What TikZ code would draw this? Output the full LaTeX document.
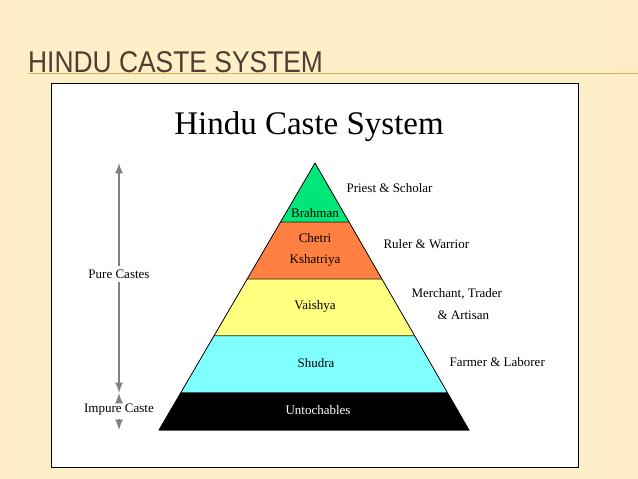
\documentclass[tikz,border=0pt]{standalone}
\usepackage{fontspec}
\usetikzlibrary{calc}
\setmainfont{Liberation Serif}
\newfontfamily\titlefont{Liberation Sans}
\definecolor{slidebg}{RGB}{253,240,200}
\definecolor{titlegray}{RGB}{80,62,50}
\definecolor{rulecol}{RGB}{230,170,90}
\definecolor{brahmancol}{RGB}{0,230,120}
\definecolor{ksatcol}{RGB}{255,128,64}
\definecolor{vaiscol}{RGB}{255,255,128}
\definecolor{shudcol}{RGB}{128,255,255}
\definecolor{arrowgray}{RGB}{128,128,128}
\tikzset{
  band/.style={draw=black,line width=0.5pt},
  castelabel/.style={font=\fontsize{13}{15}\selectfont,align=center},
  rolelabel/.style={font=\fontsize{13}{15}\selectfont,align=center,anchor=west},
  sidearrow/.style={arrowgray,line width=2.5pt,-latex}
}
\begin{document}
\begin{tikzpicture}[x=1pt,y=-1pt]
  \useasboundingbox (0,0) rectangle (638,479);
  \fill[slidebg] (0,0) rectangle (638,479);
  \fill[slidebg!80!orange!60!white,opacity=0.5] (0,0) rectangle (18,479);
  \fill[slidebg!80!orange!60!white,opacity=0.5] (612,0) rectangle (638,479);
  \draw[rulecol,line width=1pt] (28,73) -- (638,73);
  \node[anchor=base west,inner sep=0pt,text=titlegray,xscale=0.88,
        font=\titlefont\fontsize{30}{31}\selectfont] (slidetitle) at (28,72) {HINDU CASTE SYSTEM};
  % white picture box
  \draw[fill=white,line width=1pt] (51,83) rectangle (578,467);
  \node[font=\fontsize{33}{36}\selectfont,anchor=base] (boxtitle) at (309,134) {Hindu Caste System};
  % pyramid corners and band edges
  \coordinate (apex) at (315,163);
  \coordinate (bl) at (159,430);
  \coordinate (br) at (469,430);
  \foreach \n/\t in {a/0.2210,b/0.4345,c/0.6479,d/0.8614}{
    \coordinate (l\n) at ($(apex)!\t!(bl)$);
    \coordinate (r\n) at ($(apex)!\t!(br)$);
  }
  \fill[band,fill=brahmancol] (apex) -- (ra) -- (la) -- cycle;
  \fill[band,fill=ksatcol] (la) -- (ra) -- (rb) -- (lb) -- cycle;
  \fill[band,fill=vaiscol] (lb) -- (rb) -- (rc) -- (lc) -- cycle;
  \fill[band,fill=shudcol] (lc) -- (rc) -- (rd) -- (ld) -- cycle;
  \fill[band,fill=black] (ld) -- (rd) -- (br) -- (bl) -- cycle;
  \draw[band] (apex) -- (br) -- (bl) -- cycle;
  % caste names
  \node[castelabel] (brahman) at (315,213) {Brahman};
  \node[castelabel] (chetri) at (315,238) {Chetri};
  \node[castelabel] (kshatriya) at (315,260) {Kshatriya};
  \node[castelabel] (vaishya) at (315,306) {Vaishya};
  \node[castelabel] (shudra) at (316,363) {Shudra};
  \node[castelabel,text=white] (untouch) at (318,410) {Untochables};
  % roles
  \node[rolelabel] (priest) at (343,188) {Priest \& Scholar};
  \node[rolelabel] (ruler) at (380,244) {Ruler \& Warrior};
  \node[rolelabel] (merchant) at (408,294) {Merchant, Trader};
  \node[rolelabel] (artisan) at (434,315) {\& Artisan};
  \node[rolelabel] (farmer) at (446,362) {Farmer \& Laborer};
  % side arrows
  \node[castelabel] (pure) at (119,274) {Pure Castes};
  \node[castelabel] (impure) at (119,410) {Impure Caste};
  \coordinate (puretop) at (119,163);
  \coordinate (purebot) at (119,393);
  \coordinate (imptop) at (119,393);
  \coordinate (impbot) at (119,430);
  \draw[sidearrow] (pure.north) -- (puretop);
  \draw[sidearrow] (pure.south) -- (purebot);
  \draw[sidearrow] (impure.north) -- (imptop);
  \draw[sidearrow] (impure.south) -- (impbot);
\end{tikzpicture}
\end{document}
